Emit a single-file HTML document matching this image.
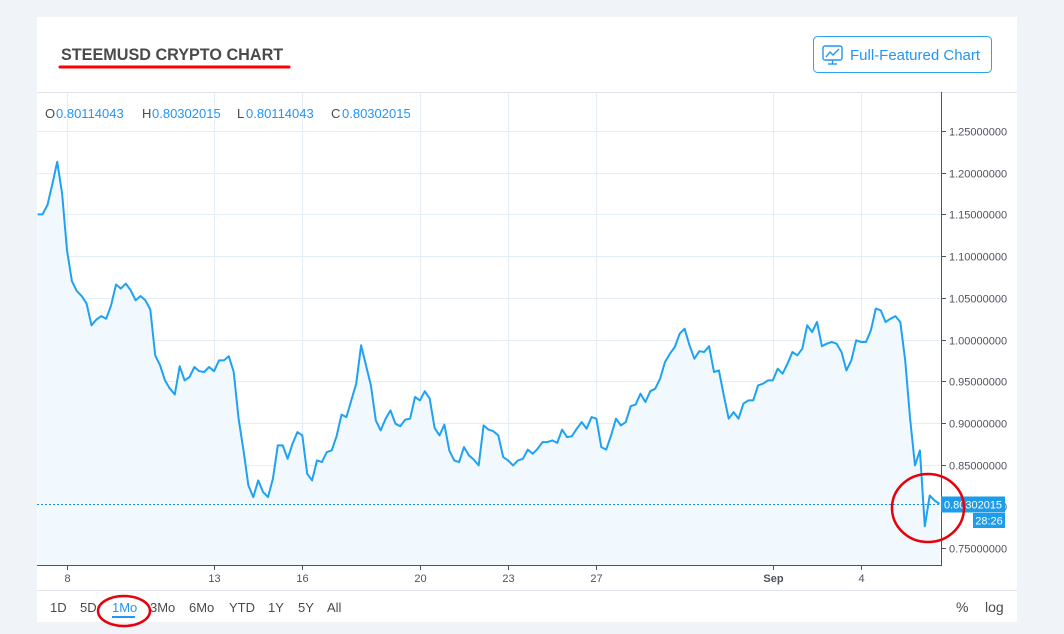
<!DOCTYPE html>
<html><head><meta charset="utf-8">
<style>
html,body{margin:0;padding:0;background:#f0f3f7;width:1064px;height:634px;overflow:hidden;font-family:"Liberation Sans","DejaVu Sans",sans-serif}
#card{position:absolute;left:37px;top:17px;width:980px;height:605px;background:#fff}
</style></head>
<body>
<div id="card"></div>
<svg id="svg" width="1064" height="634" style="position:absolute;left:0;top:0">
  <text x="61" y="60" font-size="16.2" font-weight="bold" fill="#4a4a4a">STEEMUSD CRYPTO CHART</text>
  <line x1="60" y1="67" x2="289" y2="67" stroke="#f00" stroke-width="3" stroke-linecap="round"/>
  <g>
    <rect x="813.5" y="36.5" width="178" height="36" rx="4" fill="#fff" stroke="#2ea3f2"/>
    <rect x="823" y="46" width="19" height="14" rx="2" fill="none" stroke="#2196f3" stroke-width="1.4"/>
    <polyline points="826,57 830,52 833,55 839,49" fill="none" stroke="#2196f3" stroke-width="1.4"/>
    <line x1="832.5" y1="60" x2="832.5" y2="64" stroke="#2196f3" stroke-width="1.4"/>
    <line x1="828" y1="64" x2="837" y2="64" stroke="#2196f3" stroke-width="1.4"/>
    <text x="850" y="60" font-size="15" fill="#2196f3">Full-Featured Chart</text>
  </g>
  <line x1="37" y1="92.5" x2="1017" y2="92.5" stroke="#e0e3eb"/>
  <g id="grid"></g>
  <path id="area" fill="#f1f8fe"/>
  <path id="line" fill="none" stroke="#1ea2f1" stroke-width="2" stroke-linejoin="round"/>
  <line id="lastline" x1="37" x2="941" stroke="#1e88e5" stroke-dasharray="2,2"/>
  <line x1="941.5" y1="92" x2="941.5" y2="566" stroke="#50535e"/>
  <line x1="37" y1="565.5" x2="941" y2="565.5" stroke="#50535e"/>
  <g id="axes"></g>
  <g font-size="13">
    <text x="45" y="118" fill="#4a4a4a">O</text><text x="56" y="118" fill="#2196f3">0.80114043</text>
    <text x="142" y="118" fill="#4a4a4a">H</text><text x="152" y="118" fill="#2196f3">0.80302015</text>
    <text x="237" y="118" fill="#4a4a4a">L</text><text x="246" y="118" fill="#2196f3">0.80114043</text>
    <text x="331" y="118" fill="#4a4a4a">C</text><text x="342" y="118" fill="#2196f3">0.80302015</text>
  </g>
  <g id="pricebox">
    <rect id="pbr" x="941" width="64" height="16" fill="#1e9be9"/>
    <text id="pbt" x="973" font-size="11" fill="#fff" text-anchor="middle">0.80302015</text>
  </g>
  <g>
    <rect x="973" y="513" width="32" height="15" fill="#1e9be9"/>
    <text x="989" y="524.5" font-size="11" fill="#fff" text-anchor="middle">28:26</text>
  </g>
  <line x1="37" y1="590.5" x2="1017" y2="590.5" stroke="#e0e3eb"/>
  <g font-size="13" fill="#4a4a4a">
    <text x="50" y="612">1D</text>
    <text x="80" y="612">5D</text>
    <text x="112" y="612" fill="#2196f3">1Mo</text>
    <text x="150" y="612">3Mo</text>
    <text x="189" y="612">6Mo</text>
    <text x="229" y="612">YTD</text>
    <text x="268" y="612">1Y</text>
    <text x="298" y="612">5Y</text>
    <text x="327" y="612">All</text>
    <text x="956" y="612" font-size="14">%</text>
    <text x="985" y="612" font-size="14">log</text>
  </g>
  <line x1="112" y1="617" x2="135" y2="617" stroke="#2196f3" stroke-width="2"/>
  <ellipse cx="124" cy="611" rx="26" ry="15" fill="none" stroke="#e8000b" stroke-width="2.5"/>
  <ellipse cx="928" cy="508" rx="36" ry="34" fill="none" stroke="#e8000b" stroke-width="2.5"/>
</svg>
<script>
const startDay = 7;          // Aug 7, 00:00
const stepHours = 4;
const prices = [1.150,1.150,1.161,1.186,1.213,1.175,1.107,1.070,1.058,1.052,1.043,1.017,1.024,1.028,1.025,1.041,1.066,1.061,1.067,1.059,
1.047,1.052,1.047,1.036,0.981,0.969,0.951,0.941,0.934,0.968,0.951,0.955,0.967,0.962,0.961,0.967,0.962,0.975,0.975,0.980,
0.961,0.905,0.867,0.825,0.811,0.831,0.817,0.811,0.833,0.873,0.873,0.857,0.875,0.889,0.885,0.839,0.831,0.855,0.853,0.865,
0.867,0.884,0.910,0.907,0.927,0.947,0.993,0.969,0.945,0.903,0.891,0.905,0.915,0.899,0.896,0.904,0.905,0.931,0.927,0.938,
0.929,0.894,0.885,0.898,0.867,0.855,0.853,0.871,0.861,0.856,0.849,0.897,0.892,0.890,0.885,0.859,0.855,0.849,0.855,0.857,
0.868,0.863,0.869,0.877,0.877,0.879,0.876,0.892,0.883,0.884,0.893,0.901,0.893,0.907,0.905,0.871,0.868,0.885,0.905,0.897,
0.901,0.920,0.922,0.935,0.925,0.938,0.941,0.953,0.973,0.983,0.991,1.007,1.013,0.993,0.977,0.986,0.985,0.992,0.961,0.963,
0.933,0.905,0.913,0.905,0.923,0.927,0.927,0.945,0.947,0.951,0.951,0.965,0.959,0.971,0.985,0.981,0.989,1.017,1.009,1.021,
0.992,0.995,0.997,0.995,0.985,0.963,0.975,0.999,0.997,0.997,1.011,1.037,1.035,1.021,1.025,1.028,1.021,0.975,0.905,0.849,
0.867,0.776,0.813,0.807,0.803];
const lastPrice = 0.80302015;
const yTicks = [0.75,0.80,0.85,0.90,0.95,1.00,1.05,1.10,1.15,1.20,1.25];
const xTickDays = [8,13,16,20,23,26,32,35];
const xTickLabels = ['8','13','16','20','23','27','Sep','4'];

const NS='http://www.w3.org/2000/svg';
function yScale(v){return 131+(1.25-v)*834;}
function xScale(d){return 67+(d-8)*29.41;}
function mk(tag,attrs,parent){const e=document.createElementNS(NS,tag);for(const k in attrs)e.setAttribute(k,attrs[k]);parent.appendChild(e);return e;}
const grid=document.getElementById('grid'), axes=document.getElementById('axes');
yTicks.forEach(v=>{
  const y=Math.round(yScale(v))+0.5;
  const g=mk('line',{x1:37,x2:941,y1:y,y2:y,stroke:'#e3edf5'},grid);
  
  
  const t=mk('line',{x1:941,x2:946,y1:y,y2:y,stroke:'#50535e'},axes);
  
  
  const l=mk('text',{x:949,y:y+4,'font-size':11,fill:'#50535e'},axes);
  l.textContent=v.toFixed(8);
  
  
});
xTickDays.forEach((d,i)=>{
  const x=Math.round(xScale(d))+0.5;
  const g=mk('line',{x1:x,x2:x,y1:92,y2:565,stroke:'#e3edf5'},grid);
  
  
  const t=mk('line',{x1:x,x2:x,y1:565,y2:570,stroke:'#50535e'},axes);
  
  
  const l=mk('text',{x:x,y:582,'font-size':11,fill:'#50535e','text-anchor':'middle','font-weight':xTickLabels[i]==='Sep'?'bold':'normal'},axes);
  l.textContent=xTickLabels[i];
  
  
});
let d='';
const pts=prices.map((v,i)=>[xScale(startDay+i*stepHours/24),yScale(v)]);
pts.forEach((p,i)=>{d+=(i?'L':'M')+p[0].toFixed(1)+','+p[1].toFixed(1);});
document.getElementById('line').setAttribute('d',d);
const last=pts[pts.length-1];
document.getElementById('area').setAttribute('d',d+'L'+last[0].toFixed(1)+',565L'+pts[0][0].toFixed(1)+',565Z');
const ly=Math.round(yScale(lastPrice))+0.5;
const ll=document.getElementById('lastline');ll.setAttribute('y1',ly);ll.setAttribute('y2',ly);
document.getElementById('pbr').setAttribute('y',ly-8);
document.getElementById('pbt').setAttribute('y',ly+4);
</script>
</body></html>
